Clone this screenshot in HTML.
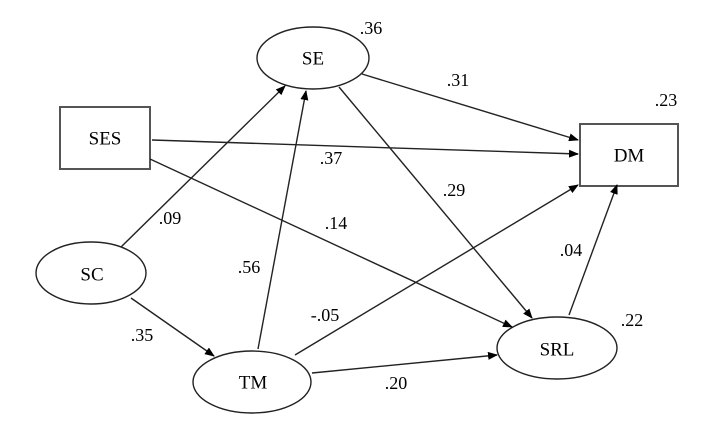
<!DOCTYPE html>
<html><head><style>html,body{margin:0;padding:0;background:#fff}
svg text{font-family:"Liberation Serif","DejaVu Serif",serif;}</style></head><body>
<svg width="717" height="432" viewBox="0 0 717 432" xmlns="http://www.w3.org/2000/svg" style="font-family:'Liberation Serif',serif;font-size:19px" fill="#000">
<defs><marker id="a" markerWidth="10" markerHeight="8" refX="9" refY="4" orient="auto" markerUnits="userSpaceOnUse"><path d="M0,0 L10,4 L0,8 Z" fill="#000"/></marker></defs>
<g fill="none" stroke="#222" stroke-width="1.4">
<ellipse cx="313" cy="58" rx="56" ry="31"/>
<rect x="60" y="107" width="90" height="62" stroke="#555" stroke-width="2"/>
<rect x="580" y="124" width="98" height="62" stroke="#555" stroke-width="2"/>
<ellipse cx="91" cy="273" rx="55" ry="31"/>
<ellipse cx="252" cy="382" rx="59" ry="31"/>
<ellipse cx="557" cy="348" rx="60" ry="31"/>
<g marker-end="url(#a)">
<line x1="362" y1="74" x2="578" y2="140"/>
<line x1="152" y1="140" x2="578" y2="154"/>
<line x1="150" y1="159" x2="512" y2="327"/>
<line x1="121" y1="247" x2="285" y2="86"/>
<line x1="131" y1="298" x2="214" y2="356"/>
<line x1="258" y1="349" x2="306" y2="91"/>
<line x1="295" y1="355" x2="578" y2="185"/>
<line x1="339" y1="87" x2="532" y2="318"/>
<line x1="312" y1="373" x2="497" y2="355"/>
<line x1="569" y1="315" x2="617" y2="185"/>
</g></g>
<g text-anchor="middle" dominant-baseline="central">
<text x="313" y="59">SE</text><text x="105" y="139">SES</text><text x="629" y="156">DM</text>
<text x="92" y="275">SC</text><text x="253" y="383">TM</text><text x="557" y="350">SRL</text>
<g style="font-size:18px">
<text x="371" y="28">.36</text><text x="458" y="80">.31</text><text x="666" y="100">.23</text>
<text x="331" y="158">.37</text><text x="454" y="190">.29</text><text x="170" y="218">.09</text>
<text x="336" y="223">.14</text><text x="571" y="250">.04</text><text x="249" y="267">.56</text>
<text x="142" y="335">.35</text><text x="325" y="315">-.05</text><text x="632" y="320">.22</text>
<text x="396" y="383">.20</text>
</g></g>
</svg>
</body></html>
